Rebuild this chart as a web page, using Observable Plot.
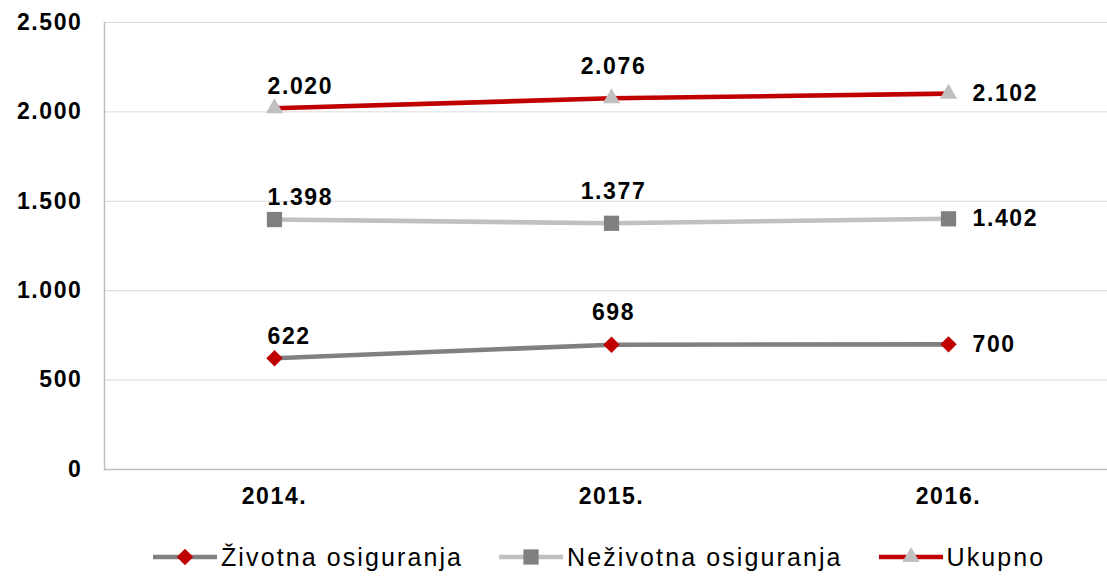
<!DOCTYPE html>
<html>
<head>
<meta charset="utf-8">
<script src="https://cdn.jsdelivr.net/npm/d3@7"></script>
<script src="https://cdn.jsdelivr.net/npm/@observablehq/plot@0.6"></script>
<style>
  html, body { margin: 0; padding: 0; background: #fff; }
  #chart svg { display: block; }
  #legend { display: flex; align-items: center; height: 54px; padding-left: 153px;
            font-family: "Liberation Sans", Arial, sans-serif; font-size: 25px; letter-spacing: 2.1px; color: #000; }
  .item { display: flex; align-items: center; margin-right: 36px; }
  .item svg { display: block; margin-right: 4px; }
</style>
</head>
<body>
<div id="chart"></div>
<div id="legend"></div>
<script>
// ---- data ----
const years = ["2014.", "2015.", "2016."];
const seriesNames = ["Životna osiguranja", "Neživotna osiguranja", "Ukupno"];
const zivotna = [622, 698, 700];
const nezivotna = [1398, 1377, 1402];
const ukupno = [2020, 2076, 2102];
const yTicks = [0, 500, 1000, 1500, 2000, 2500];

// ---- styles (kept apart from data) ----
const lineColors = ["#808080", "#c0c0c0", "#c00000"];
const markColors = ["#c00000", "#808080", "#c0c0c0"];
const markSymbols = ["diamond2", "square", "triangle"];
const markR = [7.4, 8.6, 6.4];
const labelAnchor = ["start", "middle", "start"];
const labelDx = [-7, 2, 24];
const labelDy = [-22, -32, 0];

const fmt = d3.formatLocale({decimal: ",", thousands: ".", grouping: [3], currency: ["", ""]}).format(",d");

const seriesValues = [zivotna, nezivotna, ukupno];
const rows = [];
seriesValues.forEach((vals, s) => vals.forEach((v, i) => rows.push({series: seriesNames[s], s, year: years[i], i, value: v})));

const marks = [
  Plot.ruleY(yTicks, {stroke: "#d9d9d9", strokeWidth: 1}),
  Plot.ruleY([0], {stroke: "#bfbfbf", strokeWidth: 1.5}),
  Plot.frame({anchor: "left", stroke: "#bfbfbf", strokeWidth: 1.5}),
  Plot.axisY({ticks: yTicks, tickSize: 0, tickPadding: 22, tickFormat: fmt, fontSize: 23, fontWeight: "bold", fill: "#000", label: null}),
  Plot.axisX({tickSize: 0, tickPadding: 18, fontSize: 23, fontWeight: "bold", fill: "#000", label: null})
];
seriesNames.forEach((name, s) => {
  const d = rows.filter(r => r.s === s);
  marks.push(Plot.line(d, {x: "year", y: "value", stroke: lineColors[s], strokeWidth: 4.6}));
});
seriesNames.forEach((name, s) => {
  const d = rows.filter(r => r.s === s);
  marks.push(Plot.dot(d, {x: "year", y: "value", symbol: markSymbols[s], r: markR[s], fill: markColors[s], stroke: "none"}));
});
years.forEach((yr, i) => {
  const d = rows.filter(r => r.i === i);
  marks.push(Plot.text(d, {x: "year", y: "value", text: r => fmt(r.value), textAnchor: labelAnchor[i],
    dx: labelDx[i], dy: labelDy[i], fontSize: 23, fontWeight: "bold", fill: "#000"}));
});

const chart = Plot.plot({
  width: 1107, height: 530,
  marginLeft: 104, marginRight: 0, marginTop: 22, marginBottom: 61,
  style: {fontFamily: "'Liberation Sans', Arial, sans-serif", letterSpacing: "1.6px", color: "#000", background: "#fff"},
  x: {type: "point", domain: years, padding: 0.5, insetRight: -10},
  y: {domain: [0, 2500]},
  marks
});
document.getElementById("chart").appendChild(chart);

// ---- legend ----
const legend = document.getElementById("legend");
seriesNames.forEach((name, s) => {
  const item = document.createElement("div");
  item.className = "item";
  const sym = {diamond2: d3.symbolDiamond2, square: d3.symbolSquare, triangle: d3.symbolTriangle}[markSymbols[s]];
  const path = d3.symbol(sym, Math.PI * markR[s] * markR[s])();
  item.innerHTML = `<svg width="64" height="24"><line x1="1" x2="63" y1="12" y2="12" stroke="${lineColors[s]}" stroke-width="4.6" stroke-linecap="round"/>` +
    `<path transform="translate(32,12)" d="${path}" fill="${markColors[s]}"/></svg><span>${name}</span>`;
  legend.appendChild(item);
});
</script>
</body>
</html>
